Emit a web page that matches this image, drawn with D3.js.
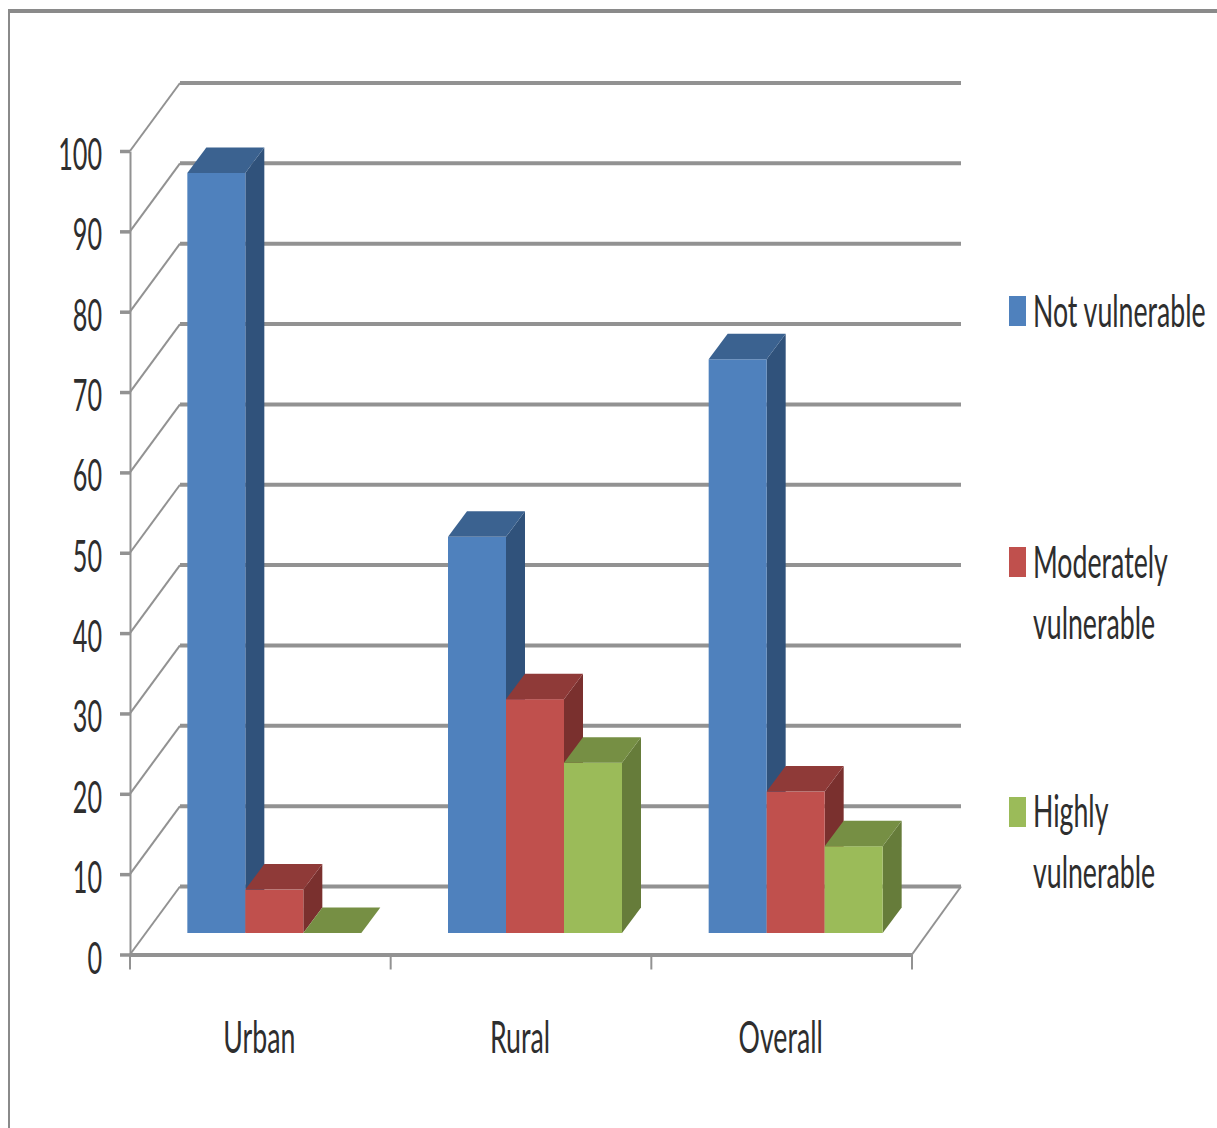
<!DOCTYPE html>
<html>
<head>
<meta charset="utf-8">
<script src="https://cdn.jsdelivr.net/npm/d3@7"></script>
<style>
html,body{margin:0;padding:0;background:#fff;overflow:hidden}
svg{display:block}
text{font-family:Lato,"Open Sans",sans-serif;fill:#2e2e2e;font-weight:400}
</style>
</head>
<body>
<svg id="chart" width="1217" height="1128"></svg>
<script>
// Survey results per area
const categories = ["Urban", "Rural", "Overall"];
const seriesNames = ["Not vulnerable", "Moderately vulnerable", "Highly vulnerable"];
const notVulnerable = [94.6, 49.3, 71.4];
const moderatelyVulnerable = [5.4, 29.1, 17.6];
const highlyVulnerable = [0, 21.2, 10.8];
const yTicks = [0, 10, 20, 30, 40, 50, 60, 70, 80, 90, 100];
const legendLines = [["Not vulnerable"], ["Moderately", "vulnerable"], ["Highly", "vulnerable"]];

const faceColors = ["#4f81bd", "#c0504d", "#9bbb59"];
const topColors = ["#3b6290", "#8f3a38", "#768f44"];
const sideColors = ["#30527b", "#7a302e", "#667c3a"];
const gridColor = "#929292";

const svg = d3.select("#chart");
const values = [notVulnerable, moderatelyVulnerable, highlyVulnerable];

// Oblique projection: the wall sits behind the axis plane, bars float in between
const floorY = 954.5, leftX = 130, rightX = 912;
const wallDx = 50, wallDy = -68;
const barDepthDx = 19, barDepthDy = -25.5;
const barPlaneDx = 14, barPlaneDy = -21.5;

const y = d3.scaleLinear().domain([0, 100]).range([floorY, 151]);
const xAxisScale = d3.scaleBand().domain(categories).range([leftX, rightX]);
const x = d3.scaleBand().domain(categories).range([leftX + barPlaneDx, rightX + barPlaneDx]);
const barSpan = x.bandwidth() * 174 / 260.67;
const xInner = d3.scaleBand().domain(d3.range(3))
  .range([(x.bandwidth() - barSpan) / 2, (x.bandwidth() + barSpan) / 2]);

// Scales a text element around its anchor so the narrow, tall lettering can be reproduced
function stretched(sel, px, py, sx) {
  return sel.attr("transform", `translate(${px},${py}) scale(${sx},1.5)`);
}

// Back wall and floor
const grid = svg.append("g").attr("fill", "none").attr("stroke", gridColor);
grid.selectAll("path.diag").data(yTicks).join("path").attr("class", "diag")
  .attr("stroke-width", 2)
  .attr("d", d => `M${leftX},${y(d)}L${leftX + wallDx},${y(d) + wallDy}`);
grid.selectAll("path.back").data(yTicks).join("path").attr("class", "back")
  .attr("stroke-width", 4)
  .attr("d", d => `M${leftX + wallDx},${y(d) + wallDy}L${rightX + wallDx - 1},${y(d) + wallDy}`);
grid.append("path").attr("stroke-width", 2)
  .attr("d", `M${rightX},${floorY}L${rightX + wallDx - 1},${floorY + wallDy}`);

// Left value axis
const yAxis = svg.append("g").attr("transform", `translate(${leftX},0)`)
  .call(d3.axisLeft(y).tickValues(yTicks).tickSize(10).tickPadding(0).tickSizeOuter(0));
yAxis.select(".domain").attr("stroke", gridColor).attr("stroke-width", 2);
yAxis.selectAll(".tick line").attr("stroke", gridColor).attr("stroke-width", 3.5);
yAxis.selectAll(".tick text").each(function () {
  d3.select(this).attr("x", null).attr("dy", null).attr("text-anchor", "end").attr("font-size", 30);
  stretched(d3.select(this), -28, 18.5, 0.84);
});

// Bottom category axis, with ticks on the band edges
const xAxis = svg.append("g").attr("transform", `translate(0,${floorY})`)
  .call(d3.axisBottom(xAxisScale).tickSize(0).tickPadding(0).tickSizeOuter(0));
xAxis.select(".domain").attr("stroke", gridColor).attr("stroke-width", 4);
xAxis.selectAll(".tick text").each(function () {
  d3.select(this).attr("y", null).attr("dy", null).attr("text-anchor", "middle").attr("font-size", 30);
  stretched(d3.select(this), -1, 98, 0.89);
});
const edges = categories.map(c => xAxisScale(c)).concat(rightX);
xAxis.selectAll("line.edge").data(edges).join("line").attr("class", "edge")
  .attr("x1", d => d).attr("x2", d => d).attr("y1", 0).attr("y2", 15)
  .attr("stroke", gridColor).attr("stroke-width", 2);

// Bars
const barLayer = svg.append("g");
categories.forEach((cat, ci) => {
  values.forEach((vals, si) => {
    const g = barLayer.append("g");
    const x0 = x(cat) + xInner(si), x1 = x0 + xInner.bandwidth();
    const yb = y(0) + barPlaneDy, yt = y(vals[ci]) + barPlaneDy;
    const dx = barDepthDx, dy = barDepthDy;
    g.append("path").attr("fill", sideColors[si])
      .attr("d", `M${x1},${yb}L${x1 + dx},${yb + dy}L${x1 + dx},${yt + dy}L${x1},${yt}Z`);
    g.append("rect").attr("fill", faceColors[si])
      .attr("x", x0).attr("y", yt).attr("width", x1 - x0).attr("height", yb - yt);
    g.append("path").attr("fill", topColors[si])
      .attr("d", `M${x0},${yt}L${x0 + dx},${yt + dy}L${x1 + dx},${yt + dy}L${x1},${yt}Z`);
  });
});

// Legend
const legendTop = [296, 547, 797];
const legend = svg.append("g");
seriesNames.forEach((name, i) => {
  legend.append("rect").attr("x", 1009).attr("y", legendTop[i])
    .attr("width", 17).attr("height", 30).attr("fill", faceColors[i]);
  legendLines[i].forEach((line, j) => {
    const t = legend.append("text").attr("font-size", 30).text(line);
    stretched(t, 1033, legendTop[i] + 31 - (i === 2 ? 1 : 0) + j * 61, 0.89);
  });
});

// Outer frame, open on the right and at the bottom
svg.append("path").attr("fill", "none").attr("stroke", "#8a8a8a").attr("stroke-width", 2)
  .attr("d", "M9,1128V11");
svg.append("path").attr("fill", "none").attr("stroke", "#8a8a8a").attr("stroke-width", 4)
  .attr("d", "M8,11H1217");
</script>
</body>
</html>
